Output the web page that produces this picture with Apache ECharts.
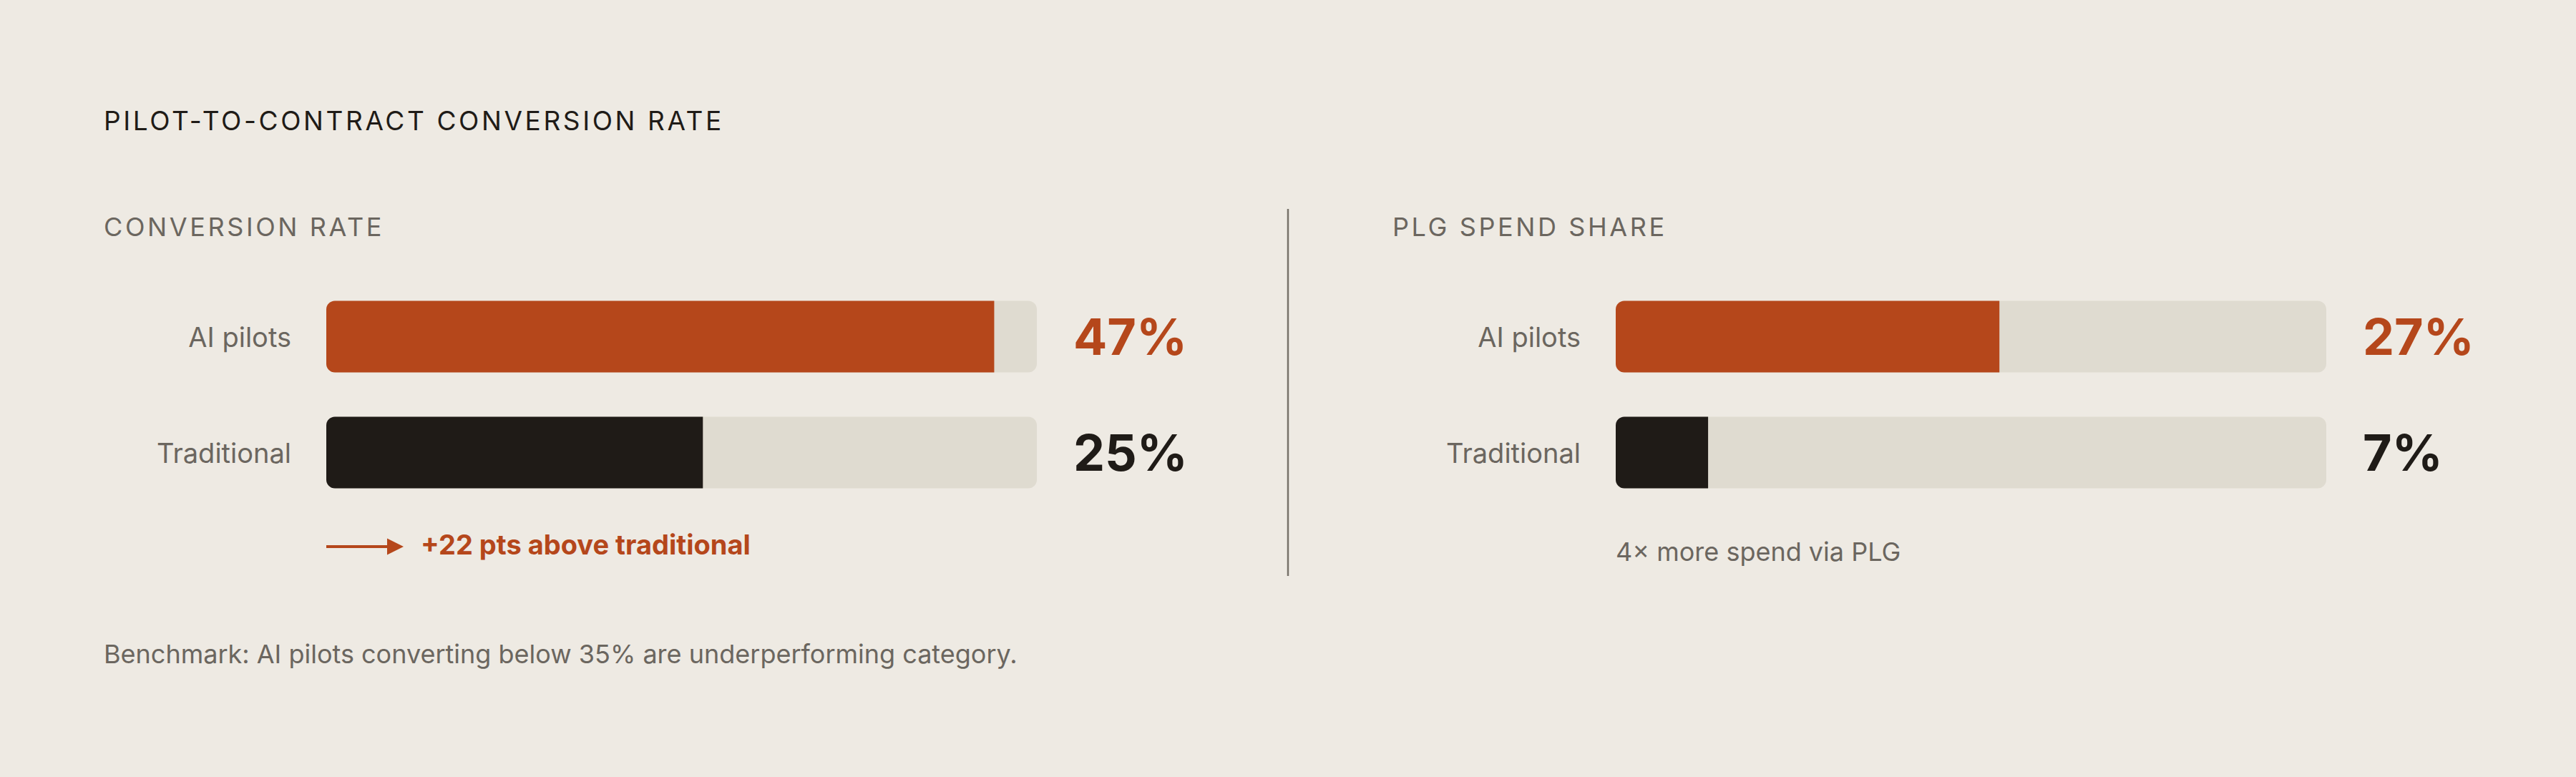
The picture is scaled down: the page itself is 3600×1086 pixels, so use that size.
<!DOCTYPE html>
<html>
<head>
<meta charset="utf-8">
<script src="https://cdn.jsdelivr.net/npm/echarts@6/dist/echarts.min.js"></script>
<style>
  html, body { margin: 0; padding: 0; background: #eeeae3; }
  #main { width: 3600px; height: 1086px; }
  #main svg text[style*="Lato"] { letter-spacing: 3.6px; }
</style>
</head>
<body>
<div id="main"></div>
<script>
// ---- data ----
const categories = ['AI pilots', 'Traditional'];
const conversionRate = [47, 26.5];          // bar lengths (scale 0-50)
const conversionLabels = ['47%', '25%'];
const plgSpendShare = [27, 6.5];
const plgSpendLabels = ['27%', '7%'];
const axisMax = 50;

const title = 'PILOT-TO-CONTRACT CONVERSION RATE';
const panelTitles = ['CONVERSION RATE', 'PLG SPEND SHARE'];
const annotationLeft = '+22 pts above traditional';
const annotationRight = '4\u00d7 more spend via PLG';
const footnote = 'Benchmark: AI pilots converting below 35% are underperforming category.';

// ---- style ----
const ORANGE = '#b5471b';
const DARK = '#1f1b17';
const TRACK = '#dfdbd0';
const GREY = '#6b665f';
const FONT = 'Inter, sans-serif';
const SPACED = 'Inter, Lato';
const itemColors = [ORANGE, DARK];

const chart = echarts.init(document.getElementById('main'), null, { renderer: 'svg' });

function barSeries(values, idx) {
  return {
    type: 'bar',
    xAxisIndex: idx,
    yAxisIndex: idx * 2,
    barWidth: 100,
    showBackground: true,
    backgroundStyle: { color: TRACK, borderRadius: 12 },
    data: values.map((v, i) => ({ value: v, itemStyle: { color: itemColors[i], borderRadius: [12, 0, 0, 12] } })),
    silent: true
  };
}

function nameAxis(idx) {
  return {
    type: 'category', gridIndex: idx, data: categories, inverse: true,
    axisLine: { show: false }, axisTick: { show: false }, splitLine: { show: false },
    axisLabel: { margin: 49, fontSize: 38, color: GREY, fontFamily: FONT }
  };
}
function valueAxis(idx, labels) {
  return {
    type: 'category', gridIndex: idx, data: labels, inverse: true, position: 'right',
    axisLine: { show: false }, axisTick: { show: false }, splitLine: { show: false },
    axisLabel: {
      margin: 51, fontSize: 70, fontWeight: 700, fontFamily: FONT,
      color: (v, i) => itemColors[i]
    }
  };
}

chart.setOption({
  backgroundColor: '#eeeae3',
  animation: false,
  grid: [
    { left: 456, width: 993, top: 389.5, height: 324 },
    { left: 2258, width: 993, top: 389.5, height: 324 }
  ],
  xAxis: [0, 1].map(i => ({ type: 'value', gridIndex: i, min: 0, max: axisMax, show: false })),
  yAxis: [nameAxis(0), valueAxis(0, conversionLabels), nameAxis(1), valueAxis(1, plgSpendLabels)],
  series: [barSeries(conversionRate, 0), barSeries(plgSpendShare, 1)],
  graphic: [
    { type: 'text', left: 145, top: 172 - 22, style: { text: title, fontSize: 37, fontWeight: 400, fill: DARK, fontFamily: SPACED } },
    { type: 'text', left: 145, top: 321 - 22, style: { text: panelTitles[0], fontSize: 36, fontWeight: 400, fill: GREY, fontFamily: SPACED } },
    { type: 'text', left: 1946, top: 321 - 22, style: { text: panelTitles[1], fontSize: 36, fontWeight: 400, fill: GREY, fontFamily: SPACED } },
    { type: 'line', shape: { x1: 1800, y1: 292, x2: 1800, y2: 805 }, style: { stroke: '#77726a', lineWidth: 2.5 } },
    { type: 'line', shape: { x1: 456, y1: 764, x2: 548, y2: 764 }, style: { stroke: ORANGE, lineWidth: 4 } },
    { type: 'polygon', shape: { points: [[541, 752.5], [564, 764], [541, 775.5]] }, style: { fill: ORANGE } },
    { type: 'text', left: 588, top: 765 - 23, style: { text: annotationLeft, fontSize: 38, fontWeight: 700, fill: ORANGE, fontFamily: FONT } },
    { type: 'text', left: 2258, top: 775 - 22, style: { text: annotationRight, fontSize: 36, fontWeight: 400, fill: GREY, fontFamily: FONT } },
    { type: 'text', left: 145, top: 918 - 22, style: { text: footnote, fontSize: 36, fontWeight: 400, fill: GREY, fontFamily: FONT } }
  ]
});
</script>
</body>
</html>
